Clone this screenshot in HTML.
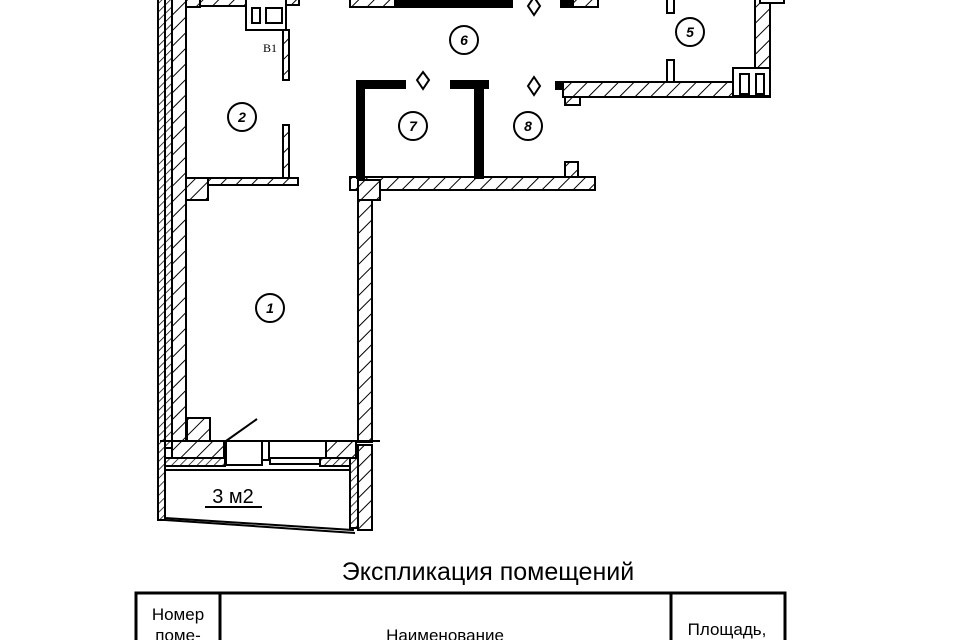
<!DOCTYPE html>
<html><head><meta charset="utf-8"><style>
html,body{margin:0;padding:0;background:#fff;width:960px;height:640px;overflow:hidden}
svg{display:block}
</style></head><body>
<svg width="960" height="640" viewBox="0 0 960 640" xmlns="http://www.w3.org/2000/svg">
<defs>
<pattern id="h" patternUnits="userSpaceOnUse" width="11" height="11" patternTransform="rotate(45)">
<rect width="11" height="11" fill="#fff"/><line x1="0" y1="0" x2="0" y2="11" stroke="#000" stroke-width="2"/>
</pattern>
<pattern id="hs" patternUnits="userSpaceOnUse" width="6" height="6" patternTransform="rotate(45)">
<rect width="6" height="6" fill="#fff"/><line x1="0" y1="0" x2="0" y2="6" stroke="#000" stroke-width="1.5"/>
</pattern>
</defs>
<g stroke="#000" stroke-width="2" fill="url(#h)">
<rect x="158" y="-2" width="7" height="522" fill="url(#hs)"/>
<rect x="165" y="-2" width="7" height="450" fill="url(#hs)"/>
<rect x="172" y="-2" width="14" height="445"/>
<rect x="186" y="-2" width="14" height="9" />
<rect x="200" y="-2" width="46" height="8"/>
<rect x="246" y="-2" width="40" height="32" fill="#fff"/>
<rect x="252" y="8" width="8" height="15" fill="#fff"/>
<rect x="266" y="8" width="16" height="15" fill="#fff"/>
<rect x="286" y="-2" width="13" height="7"/>
<rect x="283" y="30" width="6" height="50"/>
<rect x="283" y="125" width="6" height="55"/>
<rect x="186" y="178" width="112" height="7"/>
<rect x="186" y="178" width="22" height="22"/>
<rect x="358" y="180" width="14" height="262"/>
<rect x="350" y="177" width="245" height="13"/>
<rect x="358" y="180" width="22" height="20"/>
<rect x="565" y="162" width="13" height="15"/>
<rect x="187" y="418" width="23" height="23"/>
<line x1="160" y1="441" x2="380" y2="441"/>
<line x1="226" y1="441" x2="257" y2="419"/>
<rect x="172" y="441" width="52" height="24"/>
<rect x="262" y="441" width="7" height="19" fill="#fff"/>
<rect x="226" y="441" width="36" height="24" fill="#fff"/>
<rect x="270" y="458" width="55" height="6" fill="#fff"/>
<rect x="326" y="441" width="30" height="24"/>
<rect x="165" y="458" width="60" height="8" fill="url(#hs)"/>
<rect x="320" y="458" width="40" height="8" fill="url(#hs)"/>
<polygon points="165,470 353,470 353,530 165,518" fill="#fff"/>
<rect x="350" y="458" width="8" height="70" fill="url(#hs)"/>
<rect x="358" y="445" width="14" height="85"/>
<line x1="165" y1="520" x2="355" y2="533"/>
<rect x="350" y="-2" width="162" height="9" fill="#000"/>
<rect x="350" y="-2" width="45" height="9"/>
<rect x="561" y="-2" width="37" height="9"/>
<rect x="561" y="-2" width="12" height="9" fill="#000"/>
<rect x="357" y="81" width="48" height="7" fill="#000"/>
<rect x="357" y="81" width="7" height="97" fill="#000"/>
<rect x="451" y="81" width="37" height="7" fill="#000"/>
<rect x="475" y="81" width="8" height="97" fill="#000"/>
<rect x="563" y="82" width="207" height="15"/>
<rect x="565" y="97" width="15" height="8"/>
<rect x="556" y="82" width="7" height="7" fill="#000"/>
<rect x="755" y="-2" width="15" height="98"/>
<rect x="733" y="68" width="37" height="28" fill="#fff"/>
<rect x="740" y="74" width="9" height="20" fill="#fff"/>
<rect x="756" y="74" width="8" height="20" fill="#fff"/>
<rect x="760" y="-2" width="24" height="5" fill="#fff"/>
<rect x="667" y="-2" width="7" height="15" fill="#fff"/>
<rect x="667" y="60" width="7" height="22" fill="#fff"/>
</g>
<g stroke="#000" stroke-width="2" fill="#fff">
<polygon points="534,-3 540,6 534,15 528,6"/>
<polygon points="423,72 429,80 423,89 417,80"/>
<polygon points="534,77 540,86 534,95 528,86"/>
</g>
<g stroke="#000" stroke-width="2" fill="none">
<circle cx="270" cy="308" r="14"/>
<circle cx="242" cy="117" r="14"/>
<circle cx="690" cy="32" r="14"/>
<circle cx="464" cy="40" r="14"/>
<circle cx="413" cy="126" r="14"/>
<circle cx="528" cy="126" r="14"/>
</g>
<g font-family="Liberation Sans, sans-serif" font-style="italic" font-weight="bold" font-size="14" text-anchor="middle">
<text x="270" y="313">1</text><text x="242" y="122">2</text><text x="690" y="37">5</text>
<text x="464" y="45">6</text><text x="413" y="131">7</text><text x="528" y="131">8</text>
</g>
<text x="270" y="52" font-family="Liberation Serif, serif" font-size="12" text-anchor="middle">B1</text>
<text x="233" y="503" font-family="Liberation Sans, sans-serif" font-size="20" text-anchor="middle">3 м2</text>
<line x1="205" y1="507" x2="262" y2="507" stroke="#000" stroke-width="2"/>
<text x="488" y="580" font-family="Liberation Sans, sans-serif" font-size="25" text-anchor="middle">Экспликация помещений</text>
<g stroke="#000" stroke-width="3" fill="none">
<rect x="136" y="593" width="649" height="60"/>
<line x1="220" y1="593" x2="220" y2="640"/>
<line x1="671" y1="593" x2="671" y2="640"/>
</g>
<g font-family="Liberation Sans, sans-serif" font-size="17" text-anchor="middle">
<text x="178" y="620">Номер</text><text x="178" y="641">поме-</text>
<text x="445" y="641">Наименование</text>
<text x="727" y="635">Площадь,</text>
</g>
</svg>
</body></html>
